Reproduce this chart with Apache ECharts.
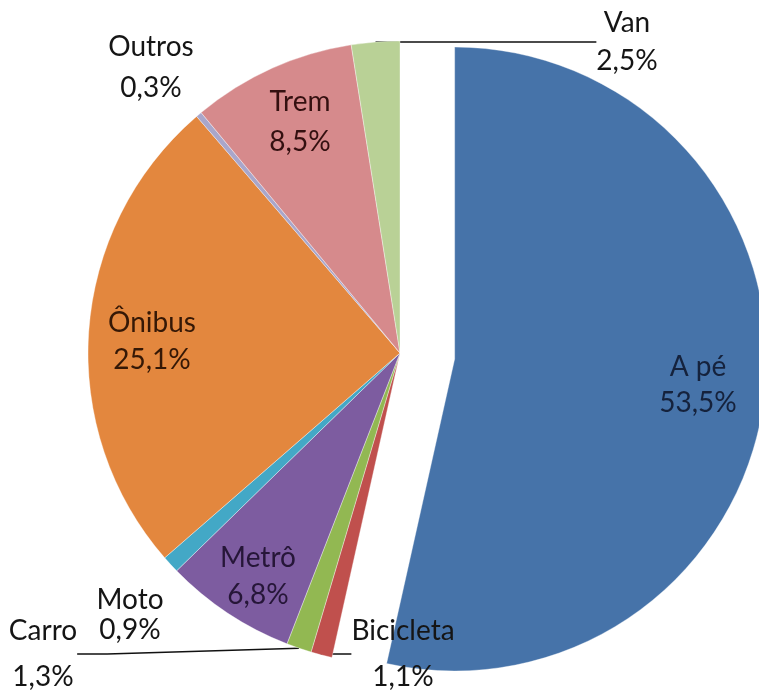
<!DOCTYPE html>
<html>
<head>
<meta charset="utf-8">
<script src="https://cdn.jsdelivr.net/npm/echarts@6/dist/echarts.min.js"></script>
<style>
    html, body { margin: 0; padding: 0; background: #fff; }
    #grafico { width: 759px; height: 690px; }
</style>
</head>
<body>
<div id="grafico"></div>
<script>
// dados (ordem do Excel: sentido horário a partir do topo)
var categorias = ['A pé', 'Bicicleta', 'Carro', 'Metrô', 'Moto', 'Ônibus', 'Outros', 'Trem', 'Van'];
var percentuais = [53.5, 1.1, 1.3, 6.8, 0.9, 25.1, 0.3, 8.5, 2.5];

var cores = ['#4673A9', '#C0504D', '#92B852', '#7D5CA0', '#43A8C6', '#E3873E', '#A9A6CA', '#D68A8C', '#B9D196'];
var corTexto = ['#15223c', '#151515', '#151515', '#261638', '#151515', '#351806', '#151515', '#341010', '#151515'];

// fatia destacada, rótulos dentro da fatia, rótulos com linha de chamada
var destacada = 'A pé';
var dentro = ['A pé', 'Metrô', 'Ônibus', 'Trem'];
var comLinha = ['Van', 'Carro', 'Bicicleta'];

// posição dos rótulos (centro do bloco de texto) e altura de linha
var posRotulos = {
    'A pé': [698, 385, 36],
    'Bicicleta': [403, 654, 46],
    'Carro': [43, 654, 46],
    'Metrô': [258, 576, 37],
    'Moto': [130, 615, 30],
    'Ônibus': [152, 341, 37],
    'Outros': [151, 67, 41],
    'Trem': [300, 122, 40],
    'Van': [627, 42, 38]
};

var centro = [400, 353];
var raio = 312;
var deslocamento = 55;

// deslocamento da fatia destacada ao longo do seu ângulo médio
var total = percentuais.reduce(function (a, b) { return a + b; }, 0);
var acum = 0, angMedio = 0;
categorias.forEach(function (nome, i) {
    if (nome === destacada) angMedio = (acum + percentuais[i] / 2) / total * 2 * Math.PI;
    acum += percentuais[i];
});
var centroDestacada = [
    centro[0] + deslocamento * Math.sin(angMedio),
    centro[1] - deslocamento * Math.cos(angMedio)
];

var myChart = echarts.init(document.getElementById('grafico'));

function montaDados(soDestacada) {
    return categorias.map(function (nome, i) {
        var visivel = soDestacada ? nome === destacada : nome !== destacada;
        return {
            name: nome,
            value: percentuais[i],
            itemStyle: visivel ? { color: cores[i] } : { color: 'rgba(0,0,0,0)', borderWidth: 0 },
            label: {
                show: visivel,
                position: dentro.indexOf(nome) >= 0 ? 'inside' : 'outside',
                color: corTexto[i],
                lineHeight: posRotulos[nome][2]
            },
            labelLine: { show: visivel && comLinha.indexOf(nome) >= 0 }
        };
    });
}

function serie(c, soDestacada) {
    return {
        type: 'pie',
        center: c,
        radius: [0, raio],
        startAngle: 90,
        clockwise: true,
        sort: false,
        silent: true,
        avoidLabelOverlap: false,
        itemStyle: {
            borderColor: 'rgba(255,255,255,0.6)',
            borderWidth: 0.6
        },
        emphasis: { disabled: true },
        label: {
            fontFamily: 'Lato',
            fontSize: 28,
            formatter: function (p) {
                return p.name + '\n' + p.value.toFixed(1).replace('.', ',') + '%';
            }
        },
        labelLine: {
            smooth: false,
            lineStyle: { color: '#111', width: 1.5 }
        },
        labelLayout: function (params) {
            var p = posRotulos[categorias[params.dataIndex]];
            return {
                x: p[0],
                y: p[1],
                align: 'center',
                verticalAlign: 'middle'
            };
        },
        data: montaDados(soDestacada)
    };
}

myChart.setOption({
    animation: false,
    series: [
        serie(centro, false),
        serie(centroDestacada, true)
    ]
});
</script>
</body>
</html>
